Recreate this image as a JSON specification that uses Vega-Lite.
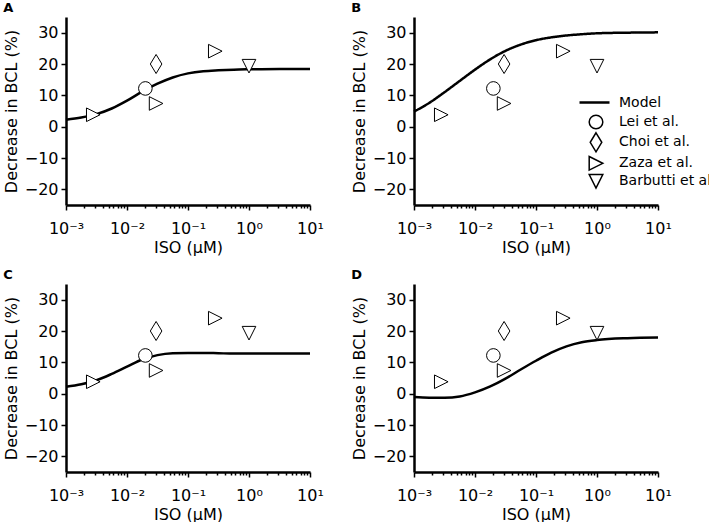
{
  "$schema": "https://vega.github.io/schema/vega-lite/v6.json",
  "padding": {"left": 3, "top": 2, "right": 0, "bottom": 0},
  "datasets": {
    "model": [
      {"panel": "A", "iso": 0.001, "bcl": 2.2}, {"panel": "A", "iso": 0.00178, "bcl": 2.9}, {"panel": "A", "iso": 0.00316, "bcl": 4.0},
      {"panel": "A", "iso": 0.00562, "bcl": 5.8}, {"panel": "A", "iso": 0.01, "bcl": 8.3}, {"panel": "A", "iso": 0.0178, "bcl": 11.2},
      {"panel": "A", "iso": 0.0316, "bcl": 13.7}, {"panel": "A", "iso": 0.0562, "bcl": 15.7}, {"panel": "A", "iso": 0.1, "bcl": 17.0},
      {"panel": "A", "iso": 0.178, "bcl": 17.7}, {"panel": "A", "iso": 0.316, "bcl": 18.0}, {"panel": "A", "iso": 0.562, "bcl": 18.2},
      {"panel": "A", "iso": 1, "bcl": 18.3}, {"panel": "A", "iso": 3.16, "bcl": 18.4}, {"panel": "A", "iso": 10, "bcl": 18.4},
      {"panel": "B", "iso": 0.001, "bcl": 4.8}, {"panel": "B", "iso": 0.00178, "bcl": 7.6}, {"panel": "B", "iso": 0.00316, "bcl": 11.0},
      {"panel": "B", "iso": 0.00562, "bcl": 14.6}, {"panel": "B", "iso": 0.01, "bcl": 18.2}, {"panel": "B", "iso": 0.0178, "bcl": 21.5},
      {"panel": "B", "iso": 0.0316, "bcl": 24.2}, {"panel": "B", "iso": 0.0562, "bcl": 26.2}, {"panel": "B", "iso": 0.1, "bcl": 27.6},
      {"panel": "B", "iso": 0.178, "bcl": 28.5}, {"panel": "B", "iso": 0.316, "bcl": 29.1}, {"panel": "B", "iso": 0.562, "bcl": 29.5},
      {"panel": "B", "iso": 1, "bcl": 29.8}, {"panel": "B", "iso": 3.16, "bcl": 30.0}, {"panel": "B", "iso": 10, "bcl": 30.1},
      {"panel": "C", "iso": 0.001, "bcl": 2.2}, {"panel": "C", "iso": 0.00178, "bcl": 3.0}, {"panel": "C", "iso": 0.00316, "bcl": 4.3},
      {"panel": "C", "iso": 0.00562, "bcl": 6.3}, {"panel": "C", "iso": 0.01, "bcl": 8.6}, {"panel": "C", "iso": 0.0178, "bcl": 10.9},
      {"panel": "C", "iso": 0.0316, "bcl": 12.3}, {"panel": "C", "iso": 0.0562, "bcl": 12.9}, {"panel": "C", "iso": 0.1, "bcl": 13.0},
      {"panel": "C", "iso": 0.178, "bcl": 13.0}, {"panel": "C", "iso": 0.316, "bcl": 12.9}, {"panel": "C", "iso": 0.562, "bcl": 12.8},
      {"panel": "C", "iso": 1, "bcl": 12.8}, {"panel": "C", "iso": 3.16, "bcl": 12.8}, {"panel": "C", "iso": 10, "bcl": 12.8},
      {"panel": "D", "iso": 0.001, "bcl": -1.1}, {"panel": "D", "iso": 0.00178, "bcl": -1.3}, {"panel": "D", "iso": 0.00316, "bcl": -1.3},
      {"panel": "D", "iso": 0.00562, "bcl": -0.9}, {"panel": "D", "iso": 0.01, "bcl": 0.4}, {"panel": "D", "iso": 0.0178, "bcl": 2.3},
      {"panel": "D", "iso": 0.0316, "bcl": 4.8}, {"panel": "D", "iso": 0.0562, "bcl": 7.7}, {"panel": "D", "iso": 0.1, "bcl": 10.5},
      {"panel": "D", "iso": 0.178, "bcl": 13.1}, {"panel": "D", "iso": 0.316, "bcl": 15.1}, {"panel": "D", "iso": 0.562, "bcl": 16.4},
      {"panel": "D", "iso": 1, "bcl": 17.1}, {"panel": "D", "iso": 3.16, "bcl": 17.7}, {"panel": "D", "iso": 10, "bcl": 17.9}
    ],
    "obs": [
      {"source": "Lei et al.", "iso": 0.02, "bcl": 12.2},
      {"source": "Choi et al.", "iso": 0.03, "bcl": 20},
      {"source": "Zaza et al.", "iso": 0.0028, "bcl": 3.8},
      {"source": "Zaza et al.", "iso": 0.03, "bcl": 7.4},
      {"source": "Zaza et al.", "iso": 0.28, "bcl": 24.1},
      {"source": "Barbutti et al.", "iso": 1, "bcl": 19.3}
    ]
  },
  "columns": 2,
  "spacing": {"row": 79, "column": 104},
  "bounds": "flush",
  "concat": [
    {
      "title": "A",
      "width": 244,
      "height": 188,
      "encoding": {
        "x": {"field": "iso", "type": "quantitative", "title": "ISO (μM)",
          "scale": {"type": "log", "domain": [0.001, 10], "nice": false},
          "axis": {"values": [0.001, 0.002, 0.003, 0.004, 0.005, 0.006, 0.007, 0.008, 0.009, 0.01, 0.02, 0.03, 0.04, 0.05, 0.06, 0.07, 0.08, 0.09, 0.1, 0.2, 0.3, 0.4, 0.5, 0.6, 0.7, 0.8, 0.9, 1, 2, 3, 4, 5, 6, 7, 8, 9, 10],
            "labelExpr": "datum.value == 0.001 ? '10⁻³' : datum.value == 0.01 ? '10⁻²' : datum.value == 0.1 ? '10⁻¹' : datum.value == 1 ? '10⁰' : datum.value == 10 ? '10¹' : ''",
            "tickSize": {"condition": {"test": "indexof([0.001, 0.01, 0.1, 1, 10], datum.value) >= 0", "value": 5}, "value": 3}}},
        "y": {"field": "bcl", "type": "quantitative", "title": "Decrease in BCL (%)",
          "scale": {"domain": [-25, 35], "nice": false},
          "axis": {"values": [-20, -10, 0, 10, 20, 30]}}
      },
      "layer": [
        {
          "data": {"name": "model"},
          "transform": [{"filter": "datum.panel == 'A'"}],
          "mark": {"type": "line", "color": "black", "strokeWidth": 2.5, "interpolate": "monotone"},
          "encoding": {}
        },
        {
          "data": {"name": "obs"},
          "mark": {"type": "point", "filled": true, "fill": "white", "stroke": "black", "strokeWidth": 1, "size": 185, "opacity": 1},
          "encoding": {
            "shape": {"field": "source", "type": "nominal", "legend": null,
              "scale": {"domain": ["Lei et al.", "Choi et al.", "Zaza et al.", "Barbutti et al."],
                "range": ["circle", "M0,-1.4L0.85,0L0,1.4L-0.85,0Z", "M-1,-1L1,0L-1,1Z", "M-1,-1L1,-1L0,1Z"]}}
          }
        }
      ]
    },
    {
      "title": "B",
      "width": 244,
      "height": 188,
      "encoding": {
        "x": {"field": "iso", "type": "quantitative", "title": "ISO (μM)",
          "scale": {"type": "log", "domain": [0.001, 10], "nice": false},
          "axis": {"values": [0.001, 0.002, 0.003, 0.004, 0.005, 0.006, 0.007, 0.008, 0.009, 0.01, 0.02, 0.03, 0.04, 0.05, 0.06, 0.07, 0.08, 0.09, 0.1, 0.2, 0.3, 0.4, 0.5, 0.6, 0.7, 0.8, 0.9, 1, 2, 3, 4, 5, 6, 7, 8, 9, 10],
            "labelExpr": "datum.value == 0.001 ? '10⁻³' : datum.value == 0.01 ? '10⁻²' : datum.value == 0.1 ? '10⁻¹' : datum.value == 1 ? '10⁰' : datum.value == 10 ? '10¹' : ''",
            "tickSize": {"condition": {"test": "indexof([0.001, 0.01, 0.1, 1, 10], datum.value) >= 0", "value": 5}, "value": 3}}},
        "y": {"field": "bcl", "type": "quantitative", "title": "Decrease in BCL (%)",
          "scale": {"domain": [-25, 35], "nice": false},
          "axis": {"values": [-20, -10, 0, 10, 20, 30]}}
      },
      "layer": [
        {
          "data": {"name": "model"},
          "transform": [{"filter": "datum.panel == 'B'"}],
          "mark": {"type": "line", "color": "black", "strokeWidth": 2.5, "interpolate": "monotone"},
          "encoding": {
            "strokeDash": {"datum": "Model", "type": "nominal",
              "scale": {"domain": ["Model"], "range": [[1, 0]]},
              "legend": {"orient": "none", "legendX": 164, "legendY": 69, "title": null, "padding": 0,
                "symbolType": "stroke", "symbolSize": 900, "symbolStrokeWidth": 2.5, "symbolStrokeColor": "black",
                "labelOffset": 8, "labelFontSize": 14, "labelColor": "black"}}
          }
        },
        {
          "data": {"name": "obs"},
          "mark": {"type": "point", "filled": true, "fill": "white", "stroke": "black", "strokeWidth": 1, "size": 185, "opacity": 1},
          "encoding": {
            "shape": {"field": "source", "type": "nominal",
              "scale": {"domain": ["Lei et al.", "Choi et al.", "Zaza et al.", "Barbutti et al."],
                "range": ["circle", "M0,-1.4L0.85,0L0,1.4L-0.85,0Z", "M-1,-1L1,0L-1,1Z", "M-1,-1L1,-1L0,1Z"]},
              "legend": {"orient": "none", "legendX": 174, "legendY": 97, "title": null, "padding": 0,
                "symbolSize": 185, "labelOffset": 15, "labelFontSize": 14, "labelColor": "black", "rowPadding": -2.7,
                "encode": {"symbols": {"update": {"fill": {"value": "white"}, "stroke": {"value": "black"}, "strokeWidth": {"value": 1}, "opacity": {"value": 1}}}}}}
          }
        }
      ]
    },
    {
      "title": "C",
      "width": 244,
      "height": 188,
      "encoding": {
        "x": {"field": "iso", "type": "quantitative", "title": "ISO (μM)",
          "scale": {"type": "log", "domain": [0.001, 10], "nice": false},
          "axis": {"values": [0.001, 0.002, 0.003, 0.004, 0.005, 0.006, 0.007, 0.008, 0.009, 0.01, 0.02, 0.03, 0.04, 0.05, 0.06, 0.07, 0.08, 0.09, 0.1, 0.2, 0.3, 0.4, 0.5, 0.6, 0.7, 0.8, 0.9, 1, 2, 3, 4, 5, 6, 7, 8, 9, 10],
            "labelExpr": "datum.value == 0.001 ? '10⁻³' : datum.value == 0.01 ? '10⁻²' : datum.value == 0.1 ? '10⁻¹' : datum.value == 1 ? '10⁰' : datum.value == 10 ? '10¹' : ''",
            "tickSize": {"condition": {"test": "indexof([0.001, 0.01, 0.1, 1, 10], datum.value) >= 0", "value": 5}, "value": 3}}},
        "y": {"field": "bcl", "type": "quantitative", "title": "Decrease in BCL (%)",
          "scale": {"domain": [-25, 35], "nice": false},
          "axis": {"values": [-20, -10, 0, 10, 20, 30]}}
      },
      "layer": [
        {
          "data": {"name": "model"},
          "transform": [{"filter": "datum.panel == 'C'"}],
          "mark": {"type": "line", "color": "black", "strokeWidth": 2.5, "interpolate": "monotone"},
          "encoding": {}
        },
        {
          "data": {"name": "obs"},
          "mark": {"type": "point", "filled": true, "fill": "white", "stroke": "black", "strokeWidth": 1, "size": 185, "opacity": 1},
          "encoding": {
            "shape": {"field": "source", "type": "nominal", "legend": null,
              "scale": {"domain": ["Lei et al.", "Choi et al.", "Zaza et al.", "Barbutti et al."],
                "range": ["circle", "M0,-1.4L0.85,0L0,1.4L-0.85,0Z", "M-1,-1L1,0L-1,1Z", "M-1,-1L1,-1L0,1Z"]}}
          }
        }
      ]
    },
    {
      "title": "D",
      "width": 244,
      "height": 188,
      "encoding": {
        "x": {"field": "iso", "type": "quantitative", "title": "ISO (μM)",
          "scale": {"type": "log", "domain": [0.001, 10], "nice": false},
          "axis": {"values": [0.001, 0.002, 0.003, 0.004, 0.005, 0.006, 0.007, 0.008, 0.009, 0.01, 0.02, 0.03, 0.04, 0.05, 0.06, 0.07, 0.08, 0.09, 0.1, 0.2, 0.3, 0.4, 0.5, 0.6, 0.7, 0.8, 0.9, 1, 2, 3, 4, 5, 6, 7, 8, 9, 10],
            "labelExpr": "datum.value == 0.001 ? '10⁻³' : datum.value == 0.01 ? '10⁻²' : datum.value == 0.1 ? '10⁻¹' : datum.value == 1 ? '10⁰' : datum.value == 10 ? '10¹' : ''",
            "tickSize": {"condition": {"test": "indexof([0.001, 0.01, 0.1, 1, 10], datum.value) >= 0", "value": 5}, "value": 3}}},
        "y": {"field": "bcl", "type": "quantitative", "title": "Decrease in BCL (%)",
          "scale": {"domain": [-25, 35], "nice": false},
          "axis": {"values": [-20, -10, 0, 10, 20, 30]}}
      },
      "layer": [
        {
          "data": {"name": "model"},
          "transform": [{"filter": "datum.panel == 'D'"}],
          "mark": {"type": "line", "color": "black", "strokeWidth": 2.5, "interpolate": "monotone"},
          "encoding": {}
        },
        {
          "data": {"name": "obs"},
          "mark": {"type": "point", "filled": true, "fill": "white", "stroke": "black", "strokeWidth": 1, "size": 185, "opacity": 1},
          "encoding": {
            "shape": {"field": "source", "type": "nominal", "legend": null,
              "scale": {"domain": ["Lei et al.", "Choi et al.", "Zaza et al.", "Barbutti et al."],
                "range": ["circle", "M0,-1.4L0.85,0L0,1.4L-0.85,0Z", "M-1,-1L1,0L-1,1Z", "M-1,-1L1,-1L0,1Z"]}}
          }
        }
      ]
    }
  ],
  "resolve": {
    "scale": {"shape": "independent", "strokeDash": "independent"},
    "legend": {"shape": "independent", "strokeDash": "independent"}
  },
  "config": {
    "font": "DejaVu Sans",
    "view": {"stroke": null},
    "axis": {
      "grid": false,
      "domainColor": "black",
      "domainWidth": 2.5,
      "tickColor": "black",
      "tickWidth": 1.5,
      "labelFontSize": 16,
      "labelColor": "black",
      "titleFontSize": 16,
      "titleFontWeight": "normal",
      "titleColor": "black"
    },
    "axisY": {"tickSize": 5, "labelPadding": 3, "titlePadding": 5},
    "axisX": {"labelPadding": 10, "titlePadding": 3, "labelOverlap": false, "labelFlush": false},
    "title": {"anchor": "start", "frame": "bounds", "fontSize": 13, "fontWeight": "bold", "color": "black", "offset": 2}
  }
}
